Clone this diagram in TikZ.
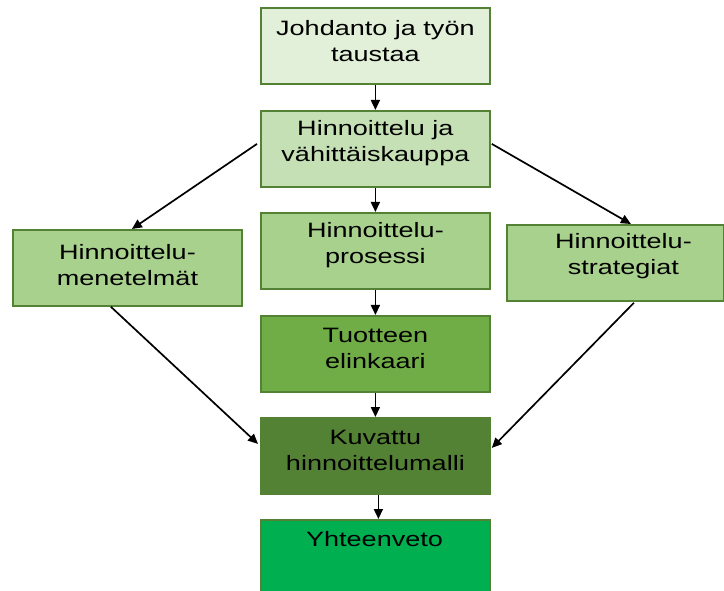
\documentclass[tikz,border=0pt]{standalone}
\usepackage{fontspec}
\setmainfont{Liberation Sans}[FakeStretch=1.3]
\usetikzlibrary{arrows.meta,calc}
\definecolor{bordc}{HTML}{548235}
\definecolor{fa}{HTML}{E2F0D9}
\definecolor{fb}{HTML}{C5E0B4}
\definecolor{fc}{HTML}{A9D18E}
\definecolor{fd}{HTML}{70AD47}
\definecolor{fe}{HTML}{548235}
\definecolor{ff}{HTML}{00B050}
\tikzset{
  boxstyle/.style={draw=bordc, line width=1.8pt, minimum width=229pt, minimum height=76pt, inner sep=0pt, anchor=north west},
  lbl/.style={font=\fontsize{20.8}{26}\selectfont, align=center, text=black, inner sep=0pt},
  arr/.style={-{Triangle[length=10pt,width=9pt]}, line width=1.7pt, black},
}
\begin{document}
\begin{tikzpicture}[x=1pt,y=-1pt]
\useasboundingbox (0,0) rectangle (724,591);
\clip (0,0) rectangle (724,591);
\node[boxstyle, fill=fa] (b1) at (260,7) {};
\node[boxstyle, fill=fb] (b2) at (260,110) {};
\node[boxstyle, fill=fc] (bl) at (12,229) {};
\node[boxstyle, fill=fc] (bm) at (260,212) {};
\node[boxstyle, fill=fc, minimum width=217pt] (br) at (506,224) {};
\node[boxstyle, fill=fd] (b4) at (260,315) {};
\node[boxstyle, fill=fe] (b5) at (260,417) {};
\node[boxstyle, fill=ff, minimum height=90pt] (b6) at (260,519) {};

\node[lbl] (t1) at ($(b1.center)+(0,-5)$) {Johdanto ja työn\\taustaa};
\node[lbl] (t2) at ($(b2.center)+(0,-6)$) {Hinnoittelu ja\\vähittäiskauppa};
\node[lbl] (tl) at ($(bl.center)+(0,-3)$) {Hinnoittelu-\\menetelmät};
\node[lbl] (tm) at ($(bm.center)+(0,-6)$) {Hinnoittelu-\\prosessi};
\node[lbl] (tr) at ($(br.center)+(8,-7)$) {Hinnoittelu-\\strategiat};
\node[lbl] (t4) at ($(b4.center)+(0,-5)$) {Tuotteen\\elinkaari};
\node[lbl] (t5) at ($(b5.center)+(0,-5)$) {Kuvattu\\hinnoittelumalli};
\node[lbl, anchor=base] (t6) at (374.5,546) {Yhteenveto};

\draw[arr] (b1.south) -- (b2.north);
\draw[arr] (b2.south) -- (bm.north);
\draw[arr] (bm.south) -- (b4.north);
\draw[arr] (b4.south) -- (b5.north);
\draw[arr] ($(b5.south)+(3,0)$) -- ($(b6.north)+(3,0)$);
\draw[arr] ($(b2.west)+(-3,-5)$) -- ($(bl.north)+(4.5,0)$);
\draw[arr] ($(b2.east)+(1,-5)$) -- ($(br.north)+(15.5,0)$);
\draw[arr] ($(bl.south)+(-16.5,0)$) -- ($(b5.west)+(-2,-12)$);
\draw[arr] ($(br.south)+(18.5,1)$) -- ($(b5.east)+(1,-8)$);
\end{tikzpicture}
\end{document}
